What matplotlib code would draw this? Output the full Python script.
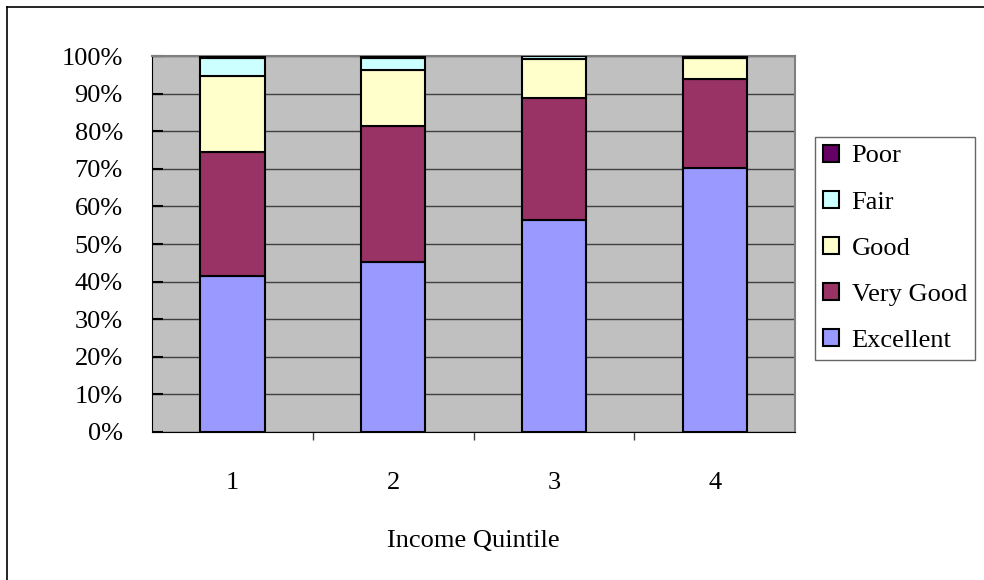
import numpy as np
import matplotlib.pyplot as plt
from matplotlib.patches import Patch
from matplotlib.lines import Line2D

quintiles = ["1", "2", "3", "4"]
categories = ["Excellent", "Very Good", "Good", "Fair", "Poor"]
excellent = [41.5, 45.3, 56.5, 70.2]
very_good = [33.1, 36.2, 32.4, 23.6]
good = [20.2, 14.9, 10.2, 5.7]
fair = [4.7, 3.1, 0.8, 0.1]
poor = [0.5, 0.5, 0.1, 0.4]
colors = ["#9999FF", "#993366", "#FFFFCC", "#CCFFFF", "#660066"]

plt.rcParams["font.family"] = ["Liberation Serif", "DejaVu Serif"]
FS = 19

fig = plt.figure(figsize=(9.84, 5.8), dpi=100)
ax = fig.add_axes([0.1545, 0.2552, 0.6535, 0.6482])
ax.set_facecolor("#C0C0C0")

x = np.arange(1, len(quintiles) + 1)
bottom = np.zeros(len(quintiles))
for name, vals, col in zip(categories, [excellent, very_good, good, fair, poor], colors):
    vals = np.array(vals)
    ax.bar(x, vals, 0.4, bottom=bottom, color=col, edgecolor="black",
           linewidth=1.5, zorder=3, label=name)
    bottom += vals

ax.set_xlim(0.5, 4.5)
ax.set_ylim(0, 100)
ax.set_yticks(np.arange(0, 101, 10))
ax.set_yticklabels([f"{v}%" for v in range(0, 101, 10)], fontsize=FS)
ax.yaxis.grid(True, color="#404040", linewidth=1, zorder=1)
ax.tick_params(axis="y", direction="in", length=8, width=1.5, pad=21)

# category boundary ticks below the axis, labels centered under bars
ax.set_xticks([1.5, 2.5, 3.5])
ax.set_xticklabels([])
ax.tick_params(axis="x", direction="out", length=6, width=1, color="#404040")
for xi, lab in zip(x, quintiles):
    ax.text(xi, -13.5, lab, ha="center", va="center", fontsize=FS,
            transform=ax.transData)
ax.text(2.5, -29, "Income Quintile", ha="center", va="center", fontsize=FS,
        transform=ax.transData)

for side in ["top", "right"]:
    ax.spines[side].set_color("#808080")
    ax.spines[side].set_linewidth(1.5)
ax.spines["left"].set_color("black")
ax.spines["bottom"].set_color("black")

handles = [Patch(facecolor=c, edgecolor="black", linewidth=1.5) for c in colors]
leg = fig.legend(handles[::-1], categories[::-1], loc="upper left",
                 bbox_to_anchor=(0.828, 0.764), fontsize=FS, frameon=True,
                 fancybox=False, edgecolor="#404040", labelspacing=0.89,
                 handlelength=0.6, handleheight=0.6, handletextpad=0.5,
                 borderpad=0.3, borderaxespad=0)
leg.get_frame().set_linewidth(1)

# outer chart border
fig.add_artist(Line2D([7 / 984, 1], [1 - 7 / 580, 1 - 7 / 580], color="black",
                      linewidth=1.2, transform=fig.transFigure))
fig.add_artist(Line2D([7 / 984, 7 / 984], [0, 1 - 7 / 580], color="black",
                      linewidth=1.2, transform=fig.transFigure))

fig.savefig("out.png", dpi=100)
